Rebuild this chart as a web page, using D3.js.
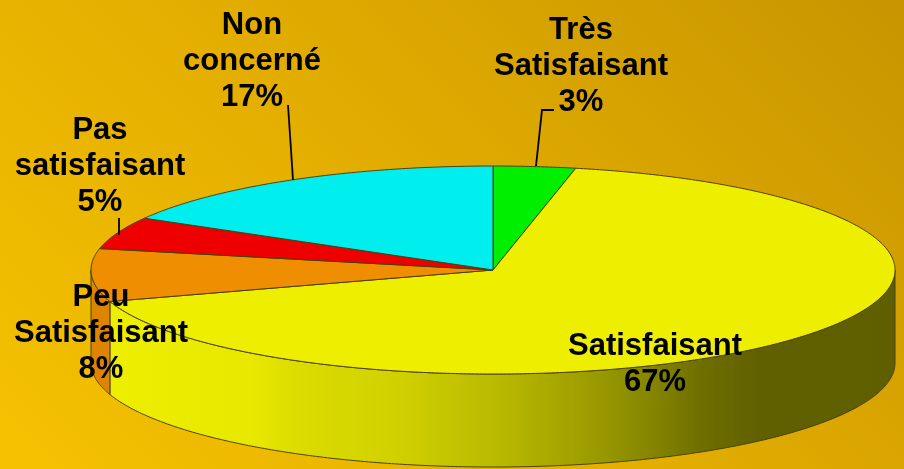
<!DOCTYPE html>
<html><head><meta charset="utf-8">
<script src="https://cdn.jsdelivr.net/npm/d3@7/dist/d3.min.js"></script>
<style>html,body{margin:0;padding:0;overflow:hidden}svg{display:block}</style>
</head><body><svg id="c" width="904" height="469"></svg>
<script>
const categories = ["Très Satisfaisant","Satisfaisant","Peu Satisfaisant","Pas satisfaisant","Non concerné"];
const sliceShares = [3.3,66.8,8.2,5,16.7];
const topColors = ["#00ee00","#eeee00","#ee8e00","#ee0000","#00eeee"];
const sideColors = ["#00aa00","url(#sideY)","#dd8500","#aa0000","#00aaaa"];
const labelLines = [["Très","Satisfaisant","3%"],["Satisfaisant","67%"],["Peu","Satisfaisant","8%"],["Pas","satisfaisant","5%"],["Non","concerné","17%"]];
const labelX = [581,655,101,100,252];
const labelY = [39,355,306,139,34];
const leaders = [[[554,110],[542,110],[536,166]],[],[],[[119,218],[119,235]],[[288,105],[293,180]]];

const W=904,H=469,cx=493,cy=270,rx=402,ry=104,depth=93;
const svg=d3.select("#c");
const defs=svg.append("defs");
defs.append("filter").attr("id","soft").attr("filterUnits","userSpaceOnUse").attr("x",0).attr("y",0).attr("width",W).attr("height",H)
  .append("feGaussianBlur").attr("stdDeviation",0.6);
const bg=defs.append("linearGradient").attr("id","bg").attr("gradientUnits","userSpaceOnUse")
  .attr("x1",0).attr("y1",H).attr("x2",(W+H)/2).attr("y2",H-(W+H)/2);
[[0,"#f6c200"],[0.5,"#e2ad00"],[1,"#c89500"]].forEach(s=>bg.append("stop").attr("offset",s[0]).attr("stop-color",s[1]));
const sy=defs.append("linearGradient").attr("id","sideY").attr("gradientUnits","userSpaceOnUse")
  .attr("x1",110).attr("y1",0).attr("x2",895).attr("y2",0);
[[0,"#eeee00"],[0.18,"#e8e800"],[0.24,"#dcdc00"],[0.37,"#d0d000"],[0.5,"#b8b800"],[0.62,"#9a9a00"],[0.69,"#858500"],[0.75,"#6f6f00"],[0.83,"#606000"],[1,"#5f5f00"]].forEach(s=>sy.append("stop").attr("offset",s[0]).attr("stop-color",s[1]));
svg.append("rect").attr("width",W).attr("height",H).attr("fill","url(#bg)");
const g=svg.append("g").attr("filter","url(#soft)");

const arcs=d3.pie().sort(null).value(d=>d)(sliceShares);
const px=a=>cx+rx*Math.sin(a), py=a=>cy-ry*Math.cos(a);
const samples=(a0,a1)=>{const n=Math.max(2,Math.ceil((a1-a0)/0.01));return d3.range(n+1).map(i=>a0+(a1-a0)*i/n);};
const edge="#4a4010";
const area=d3.area().x(px).y0(py).y1(a=>py(a)+depth);
const line=d3.line().x(d=>d[0]).y(d=>d[1]);
arcs.forEach((d,i)=>{
  const a0=Math.max(d.startAngle,Math.PI/2), a1=Math.min(d.endAngle,1.5*Math.PI);
  if(a1<=a0) return;
  g.append("path").attr("d",area(samples(a0,a1))+"Z").attr("fill",sideColors[i]).attr("stroke",edge).attr("stroke-width",1);
});
arcs.forEach((d,i)=>{
  const pts=[[cx,cy],...samples(d.startAngle,d.endAngle).map(a=>[px(a),py(a)])];
  g.append("path").attr("d",line(pts)+"Z").attr("fill",topColors[i]).attr("stroke",edge).attr("stroke-width",1).attr("stroke-linejoin","round");
});
leaders.forEach(l=>{ if(l.length) g.append("path").attr("d",line(l)).attr("fill","none").attr("stroke","#000").attr("stroke-width",1.8);});
labelLines.forEach((ls,i)=>{
  const t=g.append("text").attr("text-anchor","middle").attr("font-family","'Liberation Sans',Arial,sans-serif").attr("font-weight","bold").attr("font-size",31).attr("fill","#000");
  ls.forEach((s,j)=>t.append("tspan").attr("x",labelX[i]).attr("y",labelY[i]+j*36).text(s));
});
</script></body></html>
